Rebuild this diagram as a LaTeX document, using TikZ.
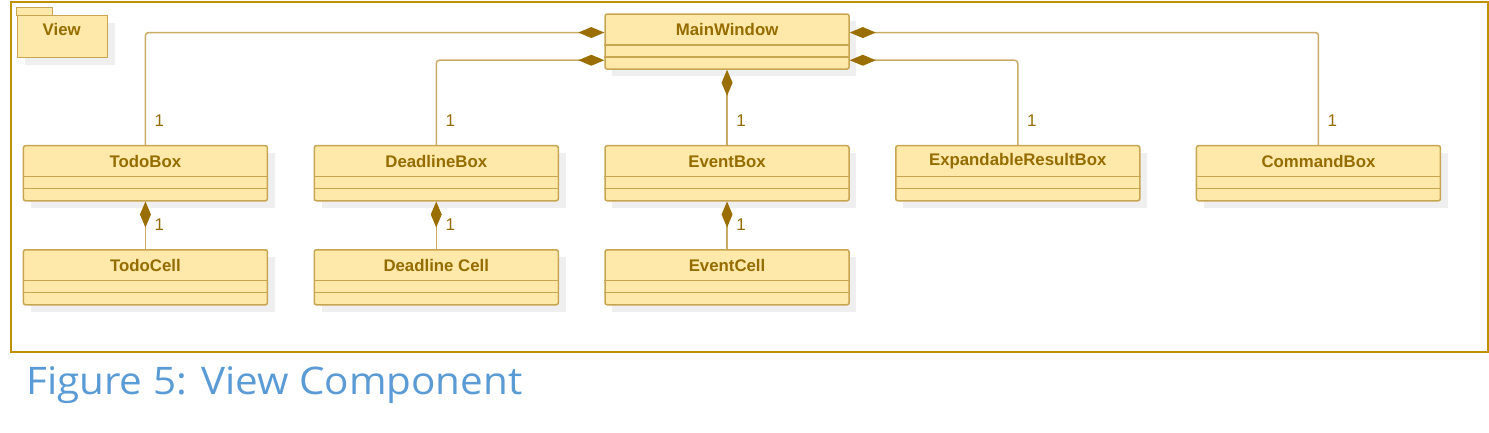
\documentclass[tikz,border=0pt]{standalone}
\usepackage{fontspec}
\setmainfont{Liberation Sans}
\newfontfamily\capfont{Open Sans}
\usetikzlibrary{arrows.meta,calc}
\definecolor{boxfill}{HTML}{FFE9AA}
\definecolor{boxline}{HTML}{C8A550}
\definecolor{txtc}{HTML}{946C00}
\definecolor{diamc}{HTML}{9A6E00}
\definecolor{connc}{HTML}{C9AB66}
\definecolor{framec}{HTML}{BF9000}
\definecolor{shadc}{HTML}{EFEFEF}
\definecolor{capc}{HTML}{5B9BD5}
\tikzset{
  clsbox/.style={draw=boxline, fill=boxfill, line width=1.5pt, rounded corners=2pt,
    minimum width=244pt, minimum height=55pt, inner sep=0pt},
  clsname/.style={font=\fontsize{16.8}{19}\selectfont\bfseries, text=txtc, inner sep=0pt},
  sepline/.style={draw=boxline, line width=1.5pt},
  shadowbox/.style={fill=shadc},
  comp/.style={draw=connc, line width=1.5pt, rounded corners=3pt,
    {Diamond[length=26pt,width=11pt,color=diamc,fill=diamc]}-},
  mult/.style={font=\fontsize{17}{19}\selectfont, text=txtc, inner sep=0pt},
}
\newcommand\umlcls[4]{%
  \fill[shadowbox] (#2+8,#3+8) rectangle ++(244,55);
  \node[clsbox, anchor=north west] (#1) at (#2,#3) {};
  \node[clsname] (#1-name) at ([yshift=-16.5pt]#1.north) {#4};
  \draw[sepline] ([yshift=-31.7pt]#1.north west) -- ([yshift=-31.7pt]#1.north east);
  \draw[sepline] ([yshift=-43.7pt]#1.north west) -- ([yshift=-43.7pt]#1.north east);
}
\begin{document}
\begin{tikzpicture}[x=1pt,y=-1pt]
\useasboundingbox (0,0) rectangle (1489,433);
% outer frame
\node[draw=framec, line width=2pt, anchor=north west, minimum width=1477pt, minimum height=350pt, inner sep=0pt] (frame) at (10,1) {};
% package View
\fill[shadowbox] (24.7,23.3) rectangle (114.7,65.3);
\draw[draw=boxline, fill=boxfill, line width=1pt] (16.7,7.3) rectangle (52.3,15.3);
\node[draw=boxline, fill=boxfill, line width=1pt, anchor=north west, minimum width=90pt, minimum height=42pt, inner sep=0pt] (view) at (16.7,15.3) {};
\node[clsname] (viewname) at (61.7,29.5) {View};
% classes
\umlcls{mw}{604.3}{13.3}{MainWindow}
\umlcls{todo}{22.7}{145}{TodoBox}
\umlcls{deadline}{313.5}{145}{DeadlineBox}
\umlcls{event}{604.3}{145}{EventBox}
\umlcls{expand}{895}{145}{ExpandableResultBox}
\umlcls{command}{1195.7}{145}{CommandBox}
\umlcls{todocell}{22.7}{249}{TodoCell}
\umlcls{deadlinecell}{313.5}{249}{Deadline Cell}
\umlcls{eventcell}{604.3}{249}{EventCell}
% connectors
\draw[comp] ([yshift=9pt]mw.west) -| (todo.north);
\draw[comp] ([yshift=-18.7pt]mw.west) -| (deadline.north);
\draw[comp] (mw.south) -- (event.north);
\draw[comp] ([yshift=-18.7pt]mw.east) -| (expand.north);
\draw[comp] ([yshift=9pt]mw.east) -| (command.north);
\draw[comp] (todo.south) -- (todocell.north);
\draw[comp] (deadline.south) -- (deadlinecell.north);
\draw[comp] (event.south) -- (eventcell.north);
% multiplicities
\foreach \n in {todo,deadline,event,expand,command,todocell,deadlinecell,eventcell}{
  \node[mult] (\n-mult) at ([xshift=14pt,yshift=24pt]\n.north) {1};
}
% caption
\node[anchor=base west, inner sep=0pt, font=\capfont\fontsize{38}{40}\selectfont, text=capc, transform shape, xscale=1.064] (caption) at (26,394) {Figure 5: View Component};
\end{tikzpicture}
\end{document}
